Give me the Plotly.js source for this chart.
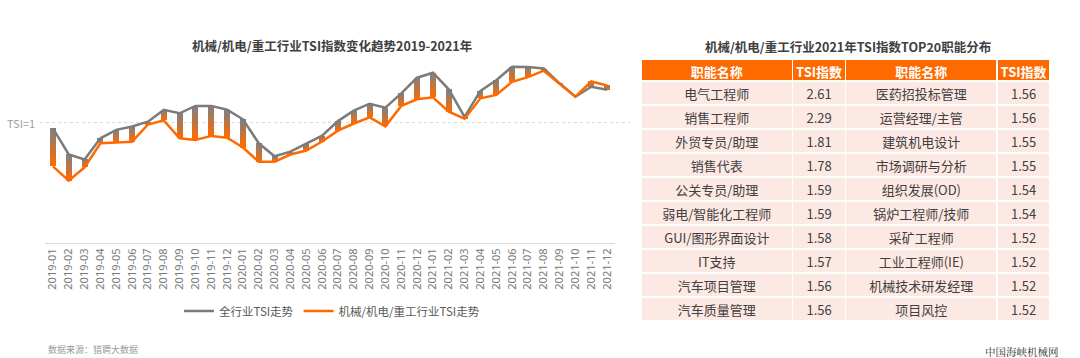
<!DOCTYPE html>
<html>
<head>
<meta charset="utf-8">
<script src="https://cdn.plot.ly/plotly-3.0.1.min.js"></script>
<style>html,body{margin:0;padding:0;background:#fff;}#chart{width:1080px;height:358px;}</style>
</head>
<body>
<div id="chart"></div>
<script>
// ---- data ----
const months = ["2019-01","2019-02","2019-03","2019-04","2019-05","2019-06","2019-07","2019-08","2019-09","2019-10","2019-11","2019-12",
                "2020-01","2020-02","2020-03","2020-04","2020-05","2020-06","2020-07","2020-08","2020-09","2020-10","2020-11","2020-12",
                "2021-01","2021-02","2021-03","2021-04","2021-05","2021-06","2021-07","2021-08","2021-09","2021-10","2021-11","2021-12"];
const allIndustryTSI = [0.971,0.840,0.815,0.921,0.963,0.980,1.004,1.063,1.046,1.083,1.083,1.064,
                        1.016,0.896,0.831,0.854,0.894,0.934,1.007,1.059,1.094,1.074,1.146,1.224,
                        1.249,1.166,1.028,1.158,1.211,1.279,1.278,1.270,1.196,1.129,1.179,1.164];
const machineryTSI   = [0.781,0.709,0.776,0.896,0.900,0.904,0.990,1.011,0.921,0.913,0.933,0.924,
                        0.875,0.804,0.804,0.840,0.860,0.905,0.959,0.995,1.026,0.981,1.083,1.116,
                        1.126,1.054,1.019,1.121,1.138,1.203,1.227,1.259,1.193,1.129,1.205,1.185];
const seriesNames = ["全行业TSI走势","机械/机电/重工行业TSI走势"];

const tableHeader = ["职能名称","TSI指数","职能名称","TSI指数"];
const jobsLeft   = ["电气工程师","销售工程师","外贸专员/助理","销售代表","公关专员/助理","弱电/智能化工程师","GUI/图形界面设计","IT支持","汽车项目管理","汽车质量管理"];
const tsiLeft    = ["2.61","2.29","1.81","1.78","1.59","1.59","1.58","1.57","1.56","1.56"];
const jobsRight  = ["医药招投标管理","运营经理/主管","建筑机电设计","市场调研与分析","组织发展(OD)","锅炉工程师/技师","采矿工程师","工业工程师(IE)","机械技术研发经理","项目风控"];
const tsiRight   = ["1.56","1.56","1.55","1.55","1.54","1.54","1.52","1.52","1.52","1.52"];

// ---- styling ----
const FONT = '"Noto Sans CJK SC", "Noto Sans", sans-serif';
const GRAY = [128,128,128], ORANGE = [255,106,0];
const W = 1080, H = 358;
const px = v => v / W, py = v => (H - v) / H;

const traces = [];
// gradient bars between the two lines, built from the data as stacked slices
const N = 14;
const lo = allIndustryTSI.map((g,i)=>Math.min(g, machineryTSI[i]));
const diff = allIndustryTSI.map((g,i)=>Math.abs(g - machineryTSI[i]));
for (let j = 0; j < N; j++) {
  const t = j / (N - 1);
  const c = ORANGE.map((o,k)=>Math.round(o + (GRAY[k]-o)*t));
  traces.push({
    type:'bar', x: months, y: diff.map(d=>d/N*1.02), base: lo.map((l,i)=>l + diff[i]*j/N),
    width: 0.38, marker:{color:`rgb(${c.join(',')})`, line:{width:0}},
    showlegend:false, hoverinfo:'skip', xaxis:'x', yaxis:'y'
  });
}
traces.push({type:'scatter', mode:'lines', x: months, y: allIndustryTSI, name: seriesNames[0],
  line:{color:'#7b7b7b', width:2.5}, xaxis:'x', yaxis:'y'});
traces.push({type:'scatter', mode:'lines', x: months, y: machineryTSI, name: seriesNames[1],
  line:{color:'#ff6a00', width:2.5}, xaxis:'x', yaxis:'y'});

// table
traces.push({
  type:'table',
  domain:{x:[px(641), px(1051)], y:[py(322), py(59)]},
  columnwidth:[152,53,152,53],
  header:{values: tableHeader, height:22, align:'center',
    fill:{color:'#ff6a00'}, line:{color:'#ffffff', width:1.5},
    font:{family:FONT, size:13, color:'#ffffff', weight:'bold'}},
  cells:{values:[jobsLeft, tsiLeft, jobsRight, tsiRight], height:24, align:'center',
    fill:{color:'#fde9e4'}, line:{color:'#ffffff', width:1.5},
    font:{family:FONT, size:13, color:'#404040'}}
});

const layout = {
  width: W, height: H,
  margin:{l:0, r:0, t:0, b:0},
  paper_bgcolor:'#ffffff', plot_bgcolor:'#ffffff',
  barmode:'overlay', bargap:0,
  font:{family:FONT},
  xaxis:{type:'category', domain:[px(45), px(615)], range:[-0.5, 35.5],
    showline:true, linecolor:'#d9d9d9', linewidth:1, showgrid:false, zeroline:false,
    ticks:'', tickangle:-90, tickfont:{family:'"Noto Sans", "Liberation Sans", sans-serif', size:11, color:'#7a7a7a'}, fixedrange:true},
  yaxis:{domain:[py(243), py(60)], range:[0.3975, 1.3125], visible:false, showgrid:false, zeroline:false},
  showlegend:true,
  legend:{orientation:'h', x:px(332), xanchor:'center', y:py(311), yanchor:'middle',
    font:{family:FONT, size:11.5, color:'#595959'}, bgcolor:'rgba(0,0,0,0)', itemwidth:30},
  shapes:[{type:'line', xref:'paper', yref:'y', x0:px(40), x1:px(630), y0:1, y1:1,
    line:{color:'#d9d9d9', width:1, dash:'dot'}, layer:'below'}],
  annotations:[
    {text:'机械/机电/重工行业TSI指数变化趋势2019-2021年', xref:'paper', yref:'paper', x:px(332), y:py(45),
     xanchor:'center', yanchor:'middle', showarrow:false, font:{family:FONT, size:12.5, color:'#404040', weight:'bold'}},
    {text:'机械/机电/重工行业2021年TSI指数TOP20职能分布', xref:'paper', yref:'paper', x:px(848), y:py(46),
     xanchor:'center', yanchor:'middle', showarrow:false, font:{family:FONT, size:12.5, color:'#404040', weight:'bold'}},
    {text:'TSI=1', xref:'paper', yref:'y', x:px(37), y:1, xanchor:'right', yanchor:'middle', showarrow:false,
     font:{family:FONT, size:11, color:'#a0a0a0'}},
    {text:'数据来源：猎聘大数据', xref:'paper', yref:'paper', x:px(46), y:py(349), xanchor:'left', yanchor:'middle',
     showarrow:false, font:{family:FONT, size:9, color:'#999999'}},
    {text:'中国海峡机械网', xref:'paper', yref:'paper', x:px(1061), y:py(351), xanchor:'right', yanchor:'middle',
     showarrow:false, font:{family:'"Noto Serif CJK SC", "Noto Sans CJK SC", serif', size:10.5, color:'#333333'}}
  ]
};

Plotly.newPlot('chart', traces, layout, {displayModeBar:false, staticPlot:true});
</script>
</body>
</html>
